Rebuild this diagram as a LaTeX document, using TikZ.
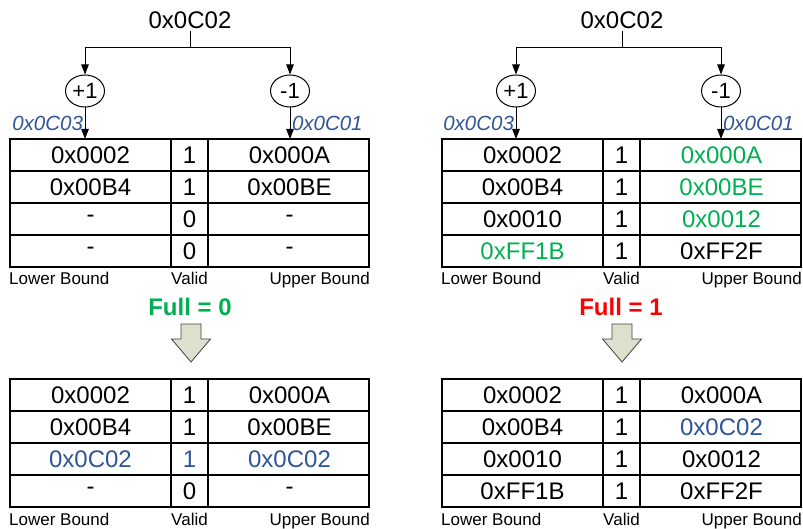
\documentclass[tikz,border=0pt]{standalone}
\usepackage{fontspec}
\setmainfont{Liberation Sans}
\usetikzlibrary{arrows.meta}
\usetikzlibrary{shapes.geometric}
\usetikzlibrary{positioning}

\definecolor{addrblue}{RGB}{47,85,151}
\definecolor{hitgreen}{RGB}{0,176,80}
\definecolor{fullred}{RGB}{255,0,0}
\definecolor{stepfill}{RGB}{221,224,204}

\tikzset{
    cell/.style={font=\fontsize{24}{27}\selectfont, inner sep=0pt},
    colname/.style={font=\fontsize{17}{20}\selectfont, inner sep=0pt},
    addr/.style={font=\fontsize{24}{27}\selectfont, inner sep=2pt},
    nextaddr/.style={font=\fontsize{20.5}{23}\selectfont\itshape, text=addrblue, inner sep=1.5pt},
    adder/.style={draw, ellipse, line width=1pt, minimum width=39pt, minimum height=32pt, inner sep=0pt, font=\fontsize{22}{25}\selectfont},
    flag/.style={font=\fontsize{24}{27}\selectfont\bfseries, inner sep=0pt},
    wire/.style={line width=1pt, -{Triangle[length=10pt,width=7.5pt]}},
    tblline/.style={line width=1.2pt},
    stepdown/.style={draw=black!75, fill=stepfill, line width=0.8pt},
}

% #1,#2 = top left corner, #3 = name, #4 = rows lower/valid/upper
\newcommand{\boundtable}[4]{%
    \coordinate (#3) at (#1,#2);
    \draw [tblline] (#1,#2) rectangle ++(359,128);
    \foreach \k in {1,2,3}
        \draw [tblline] (#1,#2+32*\k) -- ++(359,0);
    \draw [tblline] (#1+161,#2) -- ++(0,128);
    \draw [tblline] (#1+198,#2) -- ++(0,128);
    \foreach \lo/\v/\hi [count=\row] in {#4} {
        \node [cell] (#3-lo\row) at (#1+80.5,#2+32*\row-16) {\lo};
        \node [cell] (#3-v\row) at (#1+179.5,#2+32*\row-16) {\v};
        \node [cell] (#3-hi\row) at (#1+279.5,#2+32*\row-16) {\hi};
    }
    \node [colname, anchor=base west] (#3-lower) at (#1-1,#2+146) {Lower Bound};
    \node [colname, anchor=base] (#3-valid) at (#1+179.5,#2+146) {Valid};
    \node [colname, anchor=base east] (#3-upper) at (#1+360,#2+146) {Upper Bound};
}

\begin{document}
\begin{tikzpicture}[x=1pt, y=-1pt]
    \useasboundingbox (0,0) rectangle (803,529);

    % left: slot is still free
    \node [addr] (baseL) at (190,20) {0x0C02};
    \coordinate (forkL) at (190,48);
    \node [adder] (incL) at (85,91) {+1};
    \node [adder] (decL) at (290,91) {-1};
    \boundtable{10}{139}{tl}{0x0002/1/0x000A, 0x00B4/1/0x00BE, -/0/-, -/0/-}
    \draw [line width=1pt] (baseL) -- (forkL);
    \draw [wire] (forkL) -| (incL);
    \draw [wire] (forkL) -| (decL);
    \draw [wire] (incL) -- node [nextaddr, left] {0x0C03} (incL |- tl);
    \draw [wire] (decL) -- node [nextaddr, right] {0x0C01} (decL |- tl);

    \node [flag, text=hitgreen] (flagL) at (190,307) {Full = 0};
    \coordinate (stepL) at (191,324);
    \draw [stepdown] (stepL) ++(-10,0) -- ++(20,0) -- ++(0,15) -- ++(9.5,0)
        -- ++(-19.5,23) -- ++(-19.5,-23) -- ++(9.5,0) -- cycle;

    \boundtable{10}{379}{bl}{0x0002/1/0x000A, 0x00B4/1/0x00BE,
        {\color{addrblue}0x0C02}/{\color{addrblue}1}/{\color{addrblue}0x0C02}, -/0/-}

    % right: all slots valid
    \node [addr] (baseR) at (622,20) {0x0C02};
    \coordinate (forkR) at (622,48);
    \node [adder] (incR) at (516,91) {+1};
    \node [adder] (decR) at (721,91) {-1};
    \boundtable{442}{139}{tr}{0x0002/1/{\color{hitgreen}0x000A},
        0x00B4/1/{\color{hitgreen}0x00BE}, 0x0010/1/{\color{hitgreen}0x0012},
        {\color{hitgreen}0xFF1B}/1/0xFF2F}
    \draw [line width=1pt] (baseR) -- (forkR);
    \draw [wire] (forkR) -| (incR);
    \draw [wire] (forkR) -| (decR);
    \draw [wire] (incR) -- node [nextaddr, left] {0x0C03} (incR |- tr);
    \draw [wire] (decR) -- node [nextaddr, right] {0x0C01} (decR |- tr);

    \node [flag, text=fullred] (flagR) at (621,307) {Full = 1};
    \coordinate (stepR) at (622,324);
    \draw [stepdown] (stepR) ++(-10,0) -- ++(20,0) -- ++(0,15) -- ++(9.5,0)
        -- ++(-19.5,23) -- ++(-19.5,-23) -- ++(9.5,0) -- cycle;

    \boundtable{442}{379}{br}{0x0002/1/0x000A, 0x00B4/1/{\color{addrblue}0x0C02},
        0x0010/1/0x0012, 0xFF1B/1/0xFF2F}
\end{tikzpicture}
\end{document}
